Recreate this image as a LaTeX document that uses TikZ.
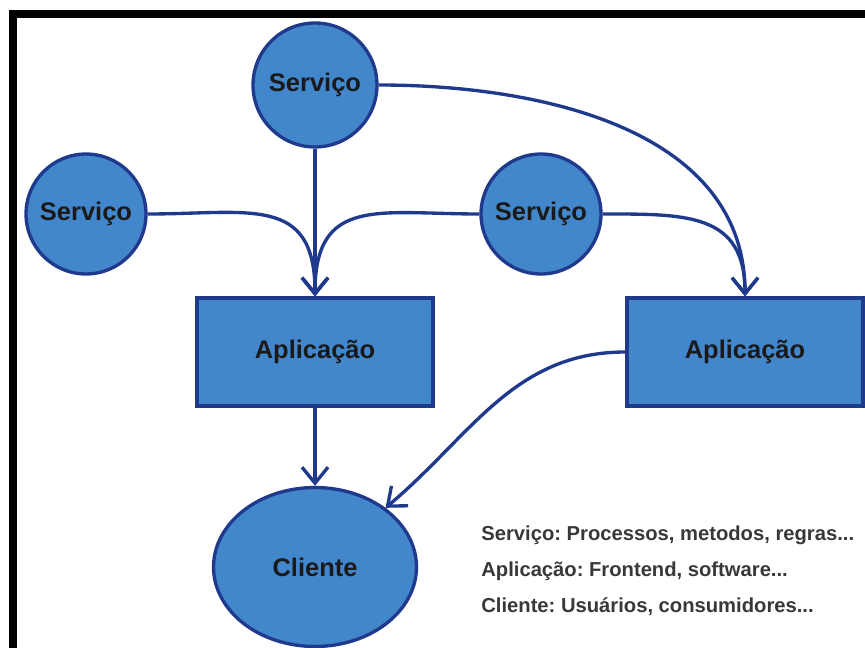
\documentclass[tikz,border=0pt]{standalone}
\usepackage{fontspec}
\setmainfont{Liberation Sans}
\usetikzlibrary{positioning, arrows.meta, shapes.geometric}
\definecolor{azul}{HTML}{4286CC}
\definecolor{azulesc}{HTML}{1F3A8C}
\definecolor{texto}{HTML}{1A1A1A}
\frenchspacing

\begin{document}
\begin{tikzpicture}[x=0.02cm, y=-0.02cm,
    servico/.style={circle, draw=azulesc, fill=azul, line width=1.9pt, minimum size=2.4cm, inner sep=0pt, text=texto, font=\fontsize{14.5}{17}\selectfont\bfseries},
    aplic/.style={rectangle, draw=azulesc, fill=azul, line width=1.9pt, minimum width=4.72cm, minimum height=2.16cm, text=texto, font=\fontsize{14.5}{17}\selectfont\bfseries},
    cliente/.style={ellipse, draw=azulesc, fill=azul, line width=1.9pt, minimum width=4.06cm, minimum height=3.18cm, text=texto, font=\fontsize{14.5}{17}\selectfont\bfseries},
    seta/.style={-{Straight Barb[length=3.2mm, width=5.2mm]}, draw=azulesc, line width=1.9pt},
    leg/.style={anchor=west, inner sep=0pt, text=black!78, font=\fontsize{11.5}{14}\selectfont\bfseries}
]
\useasboundingbox (0,0) rectangle (865,648);
% moldura
\draw[line width=4.6pt] (13,648) -- (13,14) -- (865,14);

\node[servico, minimum size=2.48cm] (srv1) at (315,85) {Serviço};
\node[servico] (srv2) at (86,214) {Serviço};
\node[servico] (srv3) at (541,214) {Serviço};
\node[aplic] (app1) at (315,352) {Aplicação};
\node[aplic] (app2) at (745,352) {Aplicação};
\node[cliente] (cli) at (315,567) {Cliente};

\draw[seta] (srv1) -- (app1);
\draw[seta] (srv2) to[out=0, in=90, looseness=1.4] (app1.north);
\draw[seta] (srv3) to[out=180, in=90, looseness=1.4] (app1.north);
\draw[seta] (srv3) to[out=0, in=90, looseness=1.3] (app2.north);
\draw[seta] (srv1) to[out=0, in=90] (app2.north);
\draw[seta] (app1) -- (cli);
\draw[seta] (app2) to[out=180, in=40] (cli.40);

% legenda
\node[leg] (leg1) at (481,535) {Serviço: Processos, metodos, regras...};
\node[leg] (leg2) at (481,571) {Aplicação: Frontend, software...};
\node[leg] (leg3) at (481,607) {Cliente: Usuários, consumidores...};
\end{tikzpicture}
\end{document}
